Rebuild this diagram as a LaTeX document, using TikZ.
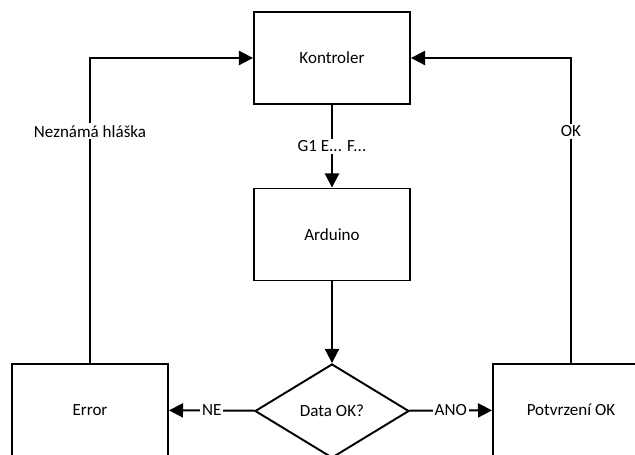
\documentclass[tikz,border=0pt]{standalone}
\usepackage{fontspec}
\setmainfont{Carlito}
\usetikzlibrary{shapes.geometric,arrows.meta}

\begin{document}
\begin{tikzpicture}[x=0.02cm,y=-0.02cm,
        box/.style={draw,line width=1.1pt,minimum width=3.12cm,minimum height=1.84cm,inner sep=0pt},
        arr/.style={line width=1.1pt,-{Triangle[length=8pt,width=8pt]}},
        lbl/.style={fill=white,inner sep=1pt},
        every node/.style={font=\fontsize{9.7}{11.6}\selectfont}]
            \clip (0,0) rectangle (635,454);
            \node[box] (kontroler) at (332,58) {Kontroler};
            \node[box] (arduino) at (332,234.5) {Arduino};
            \node[draw,diamond,line width=1.1pt,minimum width=3.08cm,minimum height=1.88cm,inner sep=0pt] (data) at (332,411) {Data OK?};
            \node[box] (error) at (90,410) {Error};
            \node[box] (potvrzeni) at (571,410) {Potvrzení OK};
            \draw[arr] (kontroler) -- node[lbl] {G1 E... F...} (arduino);
            \draw[arr] (arduino) -- (data);
            \draw[arr] (data) -- node[lbl] {NE} (error);
            \draw[arr] (data) -- node[lbl] {ANO} (potvrzeni);
            \draw[arr] (error.north) |- node[lbl,pos=0.38] {Neznámá hláška} (kontroler.west);
            \draw[arr] (potvrzeni.north) |- node[lbl,pos=0.38] {OK} (kontroler.east);
        \end{tikzpicture}
\end{document}
